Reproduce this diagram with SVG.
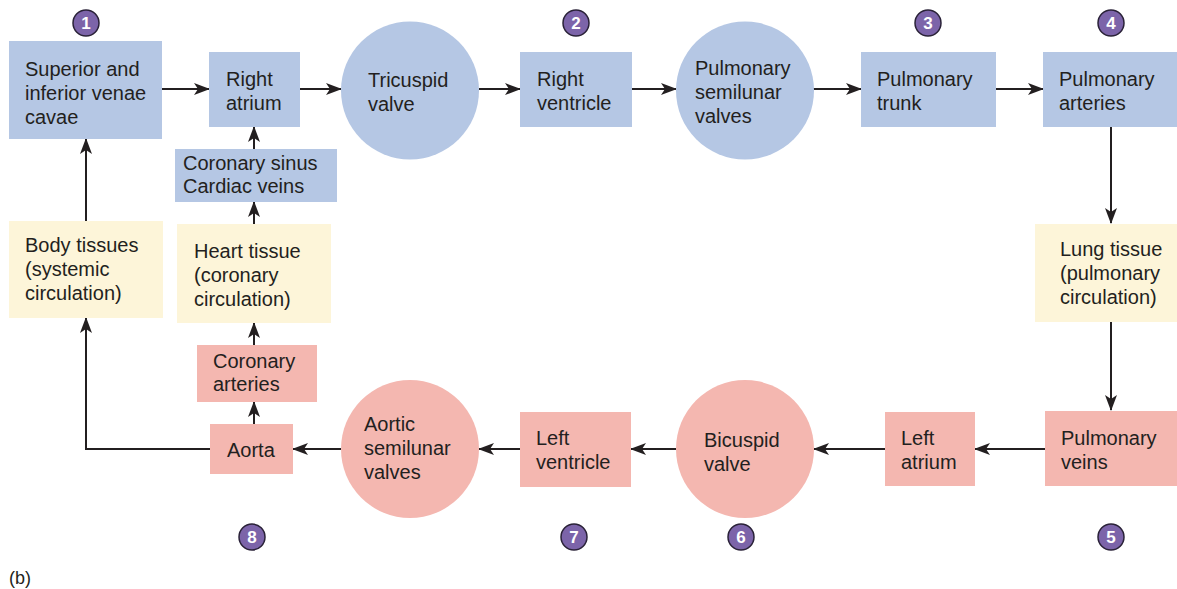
<svg xmlns="http://www.w3.org/2000/svg" width="1177" height="589" viewBox="0 0 1177 589">
<style>
.blue{fill:#b5c7e4}
.yellow{fill:#fdf5d9}
.pink{fill:#f4b7b0}
.t{font-family:"Liberation Sans",Arial,sans-serif;font-size:20px;fill:#231f20}
.badge circle{fill:#7c64a9;stroke:#2a2238;stroke-width:1.5}
.badge text{font-family:"Liberation Sans",Arial,sans-serif;font-size:17px;font-weight:bold;fill:#fff;text-anchor:middle}
.c{fill:none;stroke:#231f20;stroke-width:2}
.lbl{font-family:"Liberation Sans",Arial,sans-serif;font-size:18px;fill:#231f20}
</style>
<defs>
<marker id="ah" viewBox="0 0 16 12" refX="15" refY="6" markerWidth="16" markerHeight="12" markerUnits="userSpaceOnUse" orient="auto">
<path d="M0,0 L16,6 L0,12 L4,6 Z" fill="#231f20"/>
</marker>
</defs>
<rect width="1177" height="589" fill="#fff"/>

<g id="connectors">
<path class="c" marker-end="url(#ah)" d="M162,89 H209"/>
<path class="c" marker-end="url(#ah)" d="M300,89 H341"/>
<path class="c" marker-end="url(#ah)" d="M479,89 H520"/>
<path class="c" marker-end="url(#ah)" d="M632,89 H676"/>
<path class="c" marker-end="url(#ah)" d="M813,89 H861"/>
<path class="c" marker-end="url(#ah)" d="M996,89 H1043"/>
<path class="c" marker-end="url(#ah)" d="M1111,127 V223"/>
<path class="c" marker-end="url(#ah)" d="M1111,322 V410"/>
<path class="c" marker-end="url(#ah)" d="M1045,449 H975"/>
<path class="c" marker-end="url(#ah)" d="M885,449 H814"/>
<path class="c" marker-end="url(#ah)" d="M676,449 H631"/>
<path class="c" marker-end="url(#ah)" d="M520,449 H479"/>
<path class="c" marker-end="url(#ah)" d="M341,449 H293"/>
<path class="c" marker-end="url(#ah)" d="M254,424 V402"/>
<path class="c" marker-end="url(#ah)" d="M254,345 V323"/>
<path class="c" marker-end="url(#ah)" d="M254,224 V202"/>
<path class="c" marker-end="url(#ah)" d="M254,149 V127"/>
<path class="c" marker-end="url(#ah)" d="M210,449 H86 V318"/>
<path class="c" marker-end="url(#ah)" d="M86,221 V139"/>
</g>

<g id="venae-cavae">
<rect class="blue" x="9" y="41" width="153" height="98"/>
<text class="t" x="25" y="76">Superior and</text>
<text class="t" x="25" y="100">inferior venae</text>
<text class="t" x="25" y="124">cavae</text>
</g>
<g id="right-atrium">
<rect class="blue" x="209" y="52" width="91" height="75"/>
<text class="t" x="226" y="86">Right</text>
<text class="t" x="226" y="110">atrium</text>
</g>
<g id="coronary-sinus">
<rect class="blue" x="175" y="149" width="162" height="53"/>
<text class="t" x="183" y="170">Coronary sinus</text>
<text class="t" x="183" y="193">Cardiac veins</text>
</g>
<g id="tricuspid">
<circle class="blue" cx="410" cy="90.5" r="69"/>
<text class="t" x="368" y="87">Tricuspid</text>
<text class="t" x="368" y="111">valve</text>
</g>
<g id="right-ventricle">
<rect class="blue" x="520" y="52" width="112" height="75"/>
<text class="t" x="537" y="86">Right</text>
<text class="t" x="537" y="110">ventricle</text>
</g>
<g id="pulmonary-semilunar">
<circle class="blue" cx="745" cy="90.5" r="69"/>
<text class="t" x="695" y="75">Pulmonary</text>
<text class="t" x="695" y="99">semilunar</text>
<text class="t" x="695" y="123">valves</text>
</g>
<g id="pulmonary-trunk">
<rect class="blue" x="861" y="52" width="135" height="75"/>
<text class="t" x="877" y="86">Pulmonary</text>
<text class="t" x="877" y="110">trunk</text>
</g>
<g id="pulmonary-arteries">
<rect class="blue" x="1043" y="52" width="134" height="75"/>
<text class="t" x="1059" y="86">Pulmonary</text>
<text class="t" x="1059" y="110">arteries</text>
</g>
<g id="lung-tissue">
<rect class="yellow" x="1035" y="224" width="142" height="98"/>
<text class="t" x="1060" y="256">Lung tissue</text>
<text class="t" x="1060" y="280">(pulmonary</text>
<text class="t" x="1060" y="304">circulation)</text>
</g>
<g id="pulmonary-veins">
<rect class="pink" x="1045" y="411" width="132" height="75"/>
<text class="t" x="1061" y="445">Pulmonary</text>
<text class="t" x="1061" y="469">veins</text>
</g>
<g id="left-atrium">
<rect class="pink" x="885" y="412" width="90" height="74"/>
<text class="t" x="901" y="445">Left</text>
<text class="t" x="901" y="469">atrium</text>
</g>
<g id="bicuspid">
<circle class="pink" cx="745" cy="449" r="69"/>
<text class="t" x="704" y="447">Bicuspid</text>
<text class="t" x="704" y="471">valve</text>
</g>
<g id="left-ventricle">
<rect class="pink" x="520" y="412" width="111" height="75"/>
<text class="t" x="536" y="445">Left</text>
<text class="t" x="536" y="469">ventricle</text>
</g>
<g id="aortic-semilunar">
<circle class="pink" cx="410" cy="449" r="69"/>
<text class="t" x="364" y="431">Aortic</text>
<text class="t" x="364" y="455">semilunar</text>
<text class="t" x="364" y="479">valves</text>
</g>
<g id="aorta">
<rect class="pink" x="210" y="424" width="83" height="50"/>
<text class="t" x="227" y="457">Aorta</text>
</g>
<g id="coronary-arteries">
<rect class="pink" x="197" y="345" width="120" height="57"/>
<text class="t" x="213" y="368">Coronary</text>
<text class="t" x="213" y="391">arteries</text>
</g>
<g id="heart-tissue">
<rect class="yellow" x="177" y="224" width="154" height="99"/>
<text class="t" x="194" y="258">Heart tissue</text>
<text class="t" x="194" y="282">(coronary</text>
<text class="t" x="194" y="306">circulation)</text>
</g>
<g id="body-tissues">
<rect class="yellow" x="9" y="221" width="154" height="97"/>
<text class="t" x="25" y="252">Body tissues</text>
<text class="t" x="25" y="276">(systemic</text>
<text class="t" x="25" y="300">circulation)</text>
</g>

<g id="badges">
<g class="badge"><circle cx="86" cy="23" r="13"/><text x="86" y="29">1</text></g>
<g class="badge"><circle cx="576" cy="23" r="13"/><text x="576" y="29">2</text></g>
<g class="badge"><circle cx="928" cy="23" r="13"/><text x="928" y="29">3</text></g>
<g class="badge"><circle cx="1111" cy="23" r="13"/><text x="1111" y="29">4</text></g>
<g class="badge"><circle cx="1111" cy="537" r="13"/><text x="1111" y="543">5</text></g>
<g class="badge"><circle cx="741" cy="537" r="13"/><text x="741" y="543">6</text></g>
<g class="badge"><circle cx="574" cy="537" r="13"/><text x="574" y="543">7</text></g>
<g class="badge"><circle cx="252" cy="537" r="13"/><text x="252" y="543">8</text></g>
</g>
<text class="lbl" x="9" y="584">(b)</text>
</svg>
